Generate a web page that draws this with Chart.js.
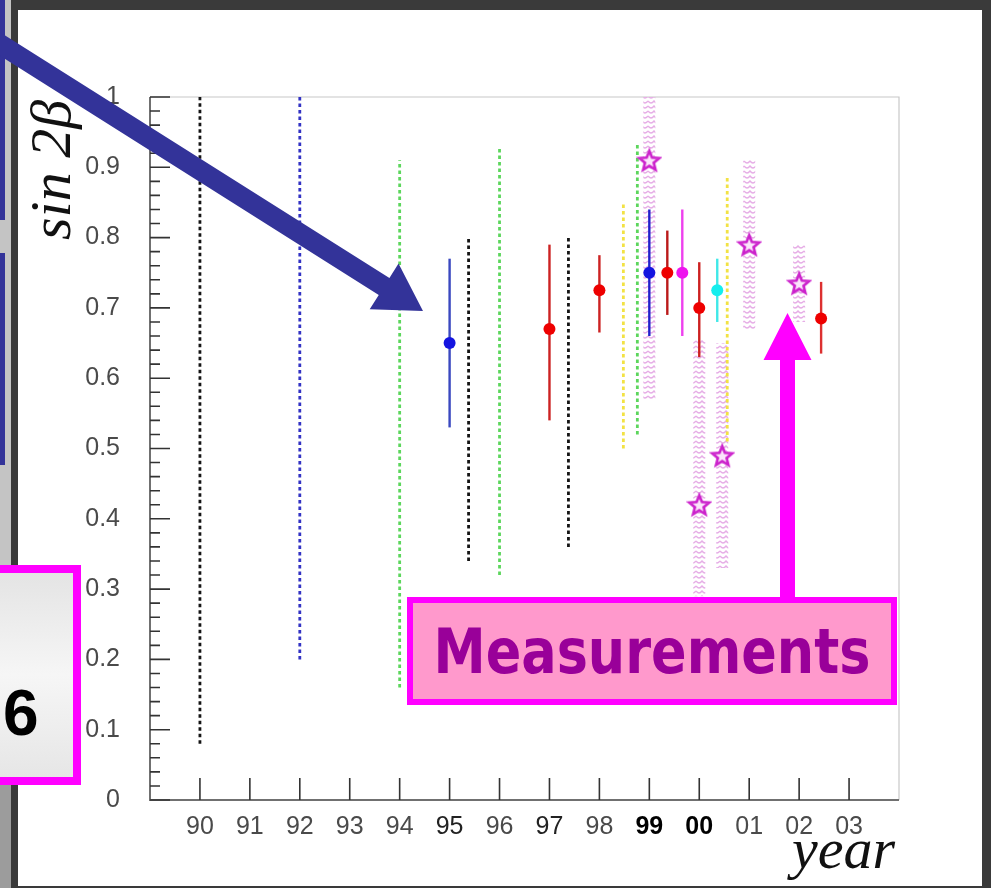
<!DOCTYPE html>
<html>
<head>
<meta charset="utf-8">
<script src="https://cdn.jsdelivr.net/npm/chart.js@4.4.1/dist/chart.umd.min.js"></script>
<style>
  html, body { margin: 0; padding: 0; background: #fff; }
  #wrap { width: 991px; height: 888px; position: relative; }
</style>
</head>
<body>
<div id="wrap"><canvas id="chart"></canvas></div>
<script>
// year axis (two-digit years, 00..03 = 2000..2003)
const yearValues = [90, 91, 92, 93, 94, 95, 96, 97, 98, 99, 100, 101, 102, 103];
const yearLabels = ["90", "91", "92", "93", "94", "95", "96", "97", "98", "99", "00", "01", "02", "03"];

// dotted ranges (indirect constraints)
const boundX  = [90, 92, 94, 95.38, 96, 97.38, 98.48, 98.76, 100.56];
const boundLo = [0.08, 0.20, 0.16, 0.34, 0.32, 0.36, 0.50, 0.52, 0.51];
const boundHi = [1.00, 1.00, 0.91, 0.80, 0.93, 0.80, 0.85, 0.935, 0.885];

// measurements with error bars
const measX  = [95, 97, 98, 99, 99.36, 99.66, 100, 100.36, 102.44];
const measY  = [0.65, 0.67, 0.725, 0.75, 0.75, 0.75, 0.70, 0.725, 0.685];
const measLo = [0.53, 0.54, 0.665, 0.66, 0.69, 0.66, 0.63, 0.68, 0.635];
const measHi = [0.77, 0.79, 0.775, 0.84, 0.81, 0.84, 0.765, 0.77, 0.737];

// star points with hatched bands
const starX  = [99, 100, 100.46, 101, 102];
const starY  = [0.91, 0.42, 0.49, 0.79, 0.735];
const starLo = [0.57, 0.29, 0.33, 0.67, 0.68];
const starHi = [1.00, 0.655, 0.65, 0.91, 0.79];

// colours
const boundColors = ["#141414", "#3232c4", "#5cd65c", "#141414", "#5cd65c", "#141414", "#f2e244", "#5cd65c", "#f2e244"];
const dotColors   = ["#1414e0", "#ee0000", "#ee0000", "#1414e0", "#ee0000", "#ee14ee", "#ee0000", "#14eeee", "#ee0000"];
const barColors   = ["#3a48c0", "#cc2222", "#cc2222", "#2020cc", "#bb1a1a", "#ee40ee", "#cc2020", "#40e8e8", "#dd3030"];

const canvas = document.getElementById("chart");
const ctx2d = canvas.getContext("2d");

// light pink squiggle fill for the star bands
function makeHatch() {
  const c = document.createElement("canvas");
  c.width = 12; c.height = 5;
  const g = c.getContext("2d");
  g.strokeStyle = "#e6aee6";
  g.lineWidth = 1.3;
  g.beginPath();
  g.moveTo(0, 1); g.quadraticCurveTo(3, 5, 6, 1); g.quadraticCurveTo(9, 5, 12, 1);
  g.stroke();
  return ctx2d.createPattern(c, "repeat");
}

// hollow five-point star marker
function makeStar() {
  const c = document.createElement("canvas");
  c.width = 26; c.height = 26;
  const g = c.getContext("2d");
  g.beginPath();
  for (let k = 0; k < 10; k++) {
    const r = k % 2 ? 4.6 : 10.5;
    const a = -Math.PI / 2 + k * Math.PI / 5;
    g.lineTo(13 + r * Math.cos(a), 14 + r * Math.sin(a));
  }
  g.closePath();
  g.fillStyle = "#fbe4fb";
  g.fill();
  g.strokeStyle = "#cc22cc";
  g.lineWidth = 2.6;
  g.stroke();
  return c;
}

const hatch = makeHatch();
const starImg = makeStar();

const datasets = [];
datasets.push({
  type: "scatter",
  data: starX.map((x, i) => ({ x, y: starY[i] })),
  pointStyle: starImg,
  pointRadius: 11,
  order: 0,
});
datasets.push({
  type: "scatter",
  data: measX.map((x, i) => ({ x, y: measY[i] })),
  pointBackgroundColor: dotColors,
  pointBorderWidth: 0,
  pointRadius: 6,
  order: 1,
});
measX.forEach((x, i) => datasets.push({
  type: "line",
  data: [{ x, y: measLo[i] }, { x, y: measHi[i] }],
  borderColor: barColors[i],
  borderWidth: 2.4,
  pointRadius: 0,
  order: 2,
}));
boundX.forEach((x, i) => datasets.push({
  type: "line",
  data: [{ x, y: boundLo[i] }, { x, y: boundHi[i] }],
  borderColor: boundColors[i],
  borderWidth: 2.8,
  borderDash: [3.5, 3],
  borderCapStyle: "butt",
  pointRadius: 0,
  order: 3,
}));
starX.forEach((x, i) => datasets.push({
  type: "line",
  data: [{ x, y: starLo[i] }, { x, y: starHi[i] }],
  borderColor: hatch,
  borderWidth: 12,
  borderCapStyle: "butt",
  pointRadius: 0,
  order: 4,
}));

function drawArrow(ctx, x0, y0, x1, y1, shaftW, headL, headW, color) {
  const len = Math.hypot(x1 - x0, y1 - y0);
  const dx = (x1 - x0) / len, dy = (y1 - y0) / len;
  const nx = -dy, ny = dx;
  const bx = x1 - dx * headL, by = y1 - dy * headL;
  ctx.beginPath();
  ctx.moveTo(x0 + nx * shaftW / 2, y0 + ny * shaftW / 2);
  ctx.lineTo(bx + nx * shaftW / 2, by + ny * shaftW / 2);
  ctx.lineTo(bx + nx * headW, by + ny * headW);
  ctx.lineTo(x1, y1);
  ctx.lineTo(bx - nx * headW, by - ny * headW);
  ctx.lineTo(bx - nx * shaftW / 2, by - ny * shaftW / 2);
  ctx.lineTo(x0 - nx * shaftW / 2, y0 - ny * shaftW / 2);
  ctx.closePath();
  ctx.fillStyle = color;
  ctx.fill();
}

const tickVal = (c) => (c && c.tick ? c.tick.value : 0);

const slidePlugin = {
  id: "slide",
  beforeDraw(chart) {
    const ctx = chart.ctx;
    ctx.save();
    ctx.fillStyle = "#c4c4c4";
    ctx.fillRect(0, 0, 991, 888);
    ctx.fillStyle = "#9c9c9c";
    ctx.fillRect(0, 785, 11, 103);
    ctx.fillStyle = "#333399";
    ctx.fillRect(0, 0, 5, 220);
    ctx.fillRect(0, 253, 5, 212);
    ctx.fillStyle = "#3a3a3a";
    ctx.fillRect(11, 0, 980, 888);
    ctx.fillStyle = "#ffffff";
    ctx.fillRect(18, 10, 964, 876);
    ctx.restore();
  },
  beforeDatasetsDraw(chart) {
    const ctx = chart.ctx;
    const xs = chart.scales.x, ys = chart.scales.y;
    const L = xs.left, R = xs.right, T = ys.top, B = ys.bottom;
    ctx.save();
    // frame
    ctx.strokeStyle = "#c8c8c8";
    ctx.lineWidth = 1.2;
    ctx.beginPath();
    ctx.moveTo(L, T); ctx.lineTo(R, T); ctx.lineTo(R, B);
    ctx.stroke();
    ctx.strokeStyle = "#707070";
    ctx.lineWidth = 2;
    ctx.beginPath();
    ctx.moveTo(L, T); ctx.lineTo(L, B); ctx.lineTo(R, B);
    ctx.stroke();
    // ticks pointing inward
    ctx.strokeStyle = "#333";
    ctx.lineWidth = 1.6;
    ctx.beginPath();
    for (let k = 0; k <= 50; k++) {
      const py = ys.getPixelForValue(k / 50);
      const len = k % 5 === 0 ? 20 : 10;
      ctx.moveTo(L, py); ctx.lineTo(L + len, py);
    }
    yearValues.forEach(v => {
      const px = xs.getPixelForValue(v);
      ctx.moveTo(px, B); ctx.lineTo(px, B - 22);
    });
    ctx.stroke();
    // axis titles
    ctx.fillStyle = "#111";
    ctx.font = 'italic 58px "Liberation Serif", "DejaVu Serif", serif';
    ctx.textAlign = "right";
    ctx.textBaseline = "alphabetic";
    ctx.fillText("year", 895, 868);
    ctx.translate(70, 170);
    ctx.rotate(-Math.PI / 2);
    ctx.textAlign = "center";
    ctx.fillText("sin 2\u03B2", 0, 0);
    ctx.restore();
  },
  afterDraw(chart) {
    const ctx = chart.ctx;
    ctx.save();
    // "6" box on the left
    ctx.fillStyle = "#ff00ff";
    ctx.fillRect(0, 565, 81, 220);
    const grad = ctx.createLinearGradient(0, 573, 0, 777);
    grad.addColorStop(0, "#e4e4e4");
    grad.addColorStop(0.5, "#f6f6f6");
    grad.addColorStop(1, "#e6e6e6");
    ctx.fillStyle = grad;
    ctx.fillRect(0, 573, 73, 204);
    ctx.fillStyle = "#000";
    ctx.font = 'bold 64px "Liberation Sans", Arial, sans-serif';
    ctx.textAlign = "left";
    ctx.textBaseline = "alphabetic";
    ctx.fillText("6", 3, 735);

    // blue arrow
    drawArrow(ctx, -20, 31.4, 423, 311, 20, 46, 27, "#333399");

    // magenta arrow + Measurements box
    drawArrow(ctx, 787.5, 600, 787.5, 313, 15, 47, 24, "#ff00ff");
    ctx.fillStyle = "#ff00ff";
    ctx.fillRect(407, 597, 490, 108);
    ctx.fillStyle = "#ff99cc";
    ctx.fillRect(413, 603, 478, 96);
    ctx.fillStyle = "#990099";
    ctx.font = 'bold 62px "Comic Sans MS", "DejaVu Sans", sans-serif';
    const w = ctx.measureText("Measurements").width;
    const sx = Math.min(1, 437 / w);
    ctx.translate(652, 673);
    ctx.scale(sx, 1);
    ctx.textAlign = "center";
    ctx.fillText("Measurements", 0, 0);
    ctx.restore();
  },
};

new Chart(canvas, {
  type: "scatter",
  data: { datasets },
  options: {
    responsive: true,
    maintainAspectRatio: false,
    animation: false,
    events: [],
    layout: { padding: { left: 0, top: 97, right: 92, bottom: 0 } },
    plugins: { legend: { display: false }, tooltip: { enabled: false } },
    scales: {
      x: {
        type: "linear",
        min: 89,
        max: 104,
        afterFit: (s) => { s.height = 88; },
        afterBuildTicks: (s) => { s.ticks = yearValues.map((v) => ({ value: v })); },
        grid: { display: false, drawTicks: false },
        border: { display: false },
        ticks: {
          padding: 12,
          autoSkip: false,
          maxRotation: 0,
          callback: (v) => yearLabels[yearValues.indexOf(v)] ?? "",
          color: (c) => ([99, 100].includes(tickVal(c)) ? "#000" : [95, 97].includes(tickVal(c)) ? "#222" : "#4a4a4a"),
          font: (c) => ({
            family: '"Liberation Sans", Arial, sans-serif',
            size: 25,
            weight: [99, 100].includes(tickVal(c)) ? "bold" : "normal",
          }),
        },
      },
      y: {
        min: 0,
        max: 1,
        afterFit: (s) => { s.width = 150; },
        grid: { display: false, drawTicks: false },
        border: { display: false },
        ticks: {
          stepSize: 0.1,
          padding: 30,
          color: "#4a4a4a",
          font: { family: '"Liberation Sans", Arial, sans-serif', size: 25 },
          callback: (v) => String(Math.round(v * 10) / 10),
        },
      },
    },
  },
  plugins: [slidePlugin],
});
</script>
</body>
</html>
